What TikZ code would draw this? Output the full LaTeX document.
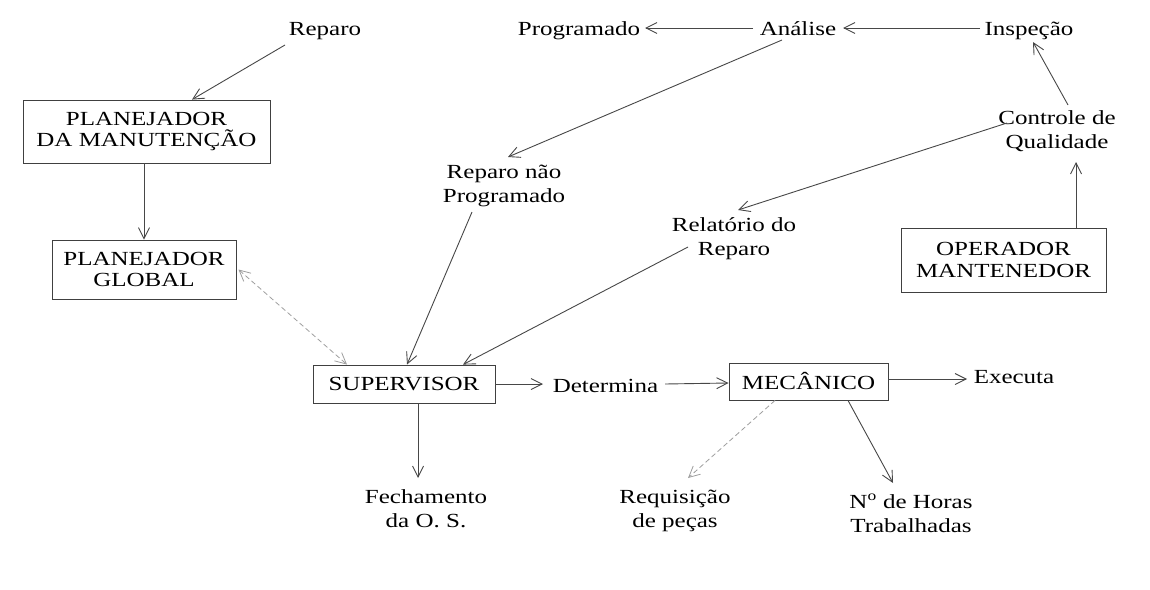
\documentclass[tikz,border=0pt]{standalone}
\usepackage{fontspec}
\setmainfont{Liberation Serif}[FakeStretch=1.25]
\usetikzlibrary{arrows.meta}
\begin{document}
\begin{tikzpicture}[x=1pt,y=-1pt,
  lbl/.style={inner sep=0pt, align=center, font=\fontsize{20}{23.5}\selectfont, text=black},
  box/.style={draw=black!75, line width=0.9pt, inner sep=0pt, align=center, text=black, font=\fontsize{20}{21.5}\selectfont},
  arr/.style={draw=black!72, line width=0.9pt, -{Straight Barb[length=11pt,width=11pt]}},
  darr/.style={draw=black!38, line width=0.8pt, dash pattern=on 5pt off 3pt}]
\useasboundingbox (0,0) rectangle (1150,589);
% boxes
\node[box, minimum width=247pt, minimum height=63pt] (pm) at (146.5,131.5) {PLANEJADOR\\DA MANUTENÇÃO};
\node[box, minimum width=184pt, minimum height=59pt] (pg) at (144,269.5) {PLANEJADOR\\GLOBAL};
\node[box, minimum width=182pt, minimum height=38pt] (sup) at (404,384) {SUPERVISOR};
\node[box, minimum width=159pt, minimum height=37pt] (mec) at (808.5,381.5) {MECÂNICO};
\node[box, minimum width=205pt, minimum height=64pt] (op) at (1003.5,260) {OPERADOR\\MANTENEDOR};
% labels (base = baseline of the last line)
\node[lbl, anchor=base] (rep) at (325,35) {Reparo};
\node[lbl, anchor=base] (prog) at (579,35) {Programado};
\node[lbl, anchor=base] (ana) at (798,35) {Análise};
\node[lbl, anchor=base] (insp) at (1029,35) {Inspeção};
\node[lbl, anchor=base] (cq) at (1057,148) {Controle de\\Qualidade};
\node[lbl, anchor=base] (rnp) at (504,202) {Reparo não\\Programado};
\node[lbl, anchor=base] (rel) at (734,255) {Relatório do\\Reparo};
\node[lbl, anchor=base] (det) at (605.5,392) {Determina};
\node[lbl, anchor=base] (exe) at (1014,383) {Executa};
\node[lbl, anchor=base] (fech) at (426,527) {Fechamento\\da O. S.};
\node[lbl, anchor=base] (req) at (675,527) {Requisição\\de peças};
\node[lbl, anchor=base] (hor) at (911,532) {N\textsuperscript{o} de Horas\\Trabalhadas};
% connectors
\draw[arr] ([shift={(-40,10)}]rep.base) -- ([shift={(45.5,0)}]pm.north);
\draw[arr] ([shift={(-2.5,0)}]pm.south) -- (pg.north);
\draw[darr, {Straight Barb[length=11pt,width=11pt]}-{Straight Barb[length=11pt,width=11pt]}] ([shift={(2,0)}]pg.east) -- ([shift={(-57,0)}]sup.north);
\draw[arr] ([shift={(-49,-7)}]insp.base) -- ([shift={(45,-7)}]ana.base);
\draw[arr] ([shift={(-45,-7)}]ana.base) -- ([shift={(66,-7)}]prog.base);
\draw[arr] ([shift={(-16,5)}]ana.base) -- ([shift={(4,-45)}]rnp.base);
\draw[arr] ([shift={(11,-43)}]cq.base) -- ([shift={(4,7)}]insp.base);
\draw[arr] ([shift={(72.5,0)}]op.north) -- ([shift={(19,14)}]cq.base);
\draw[arr] ([shift={(-50,-25)}]cq.base) -- ([shift={(4,-45)}]rel.base);
\draw[arr] ([shift={(-32,10)}]rnp.base) -- ([shift={(3,0)}]sup.north);
\draw[arr] ([shift={(-46,-8)}]rel.base) -- ([shift={(59,0)}]sup.north);
\draw[arr] (sup.east) -- ([shift={(-62.5,-8)}]det.base);
\draw[arr] ([shift={(59.5,-8)}]det.base) -- ([shift={(0,1.5)}]mec.west);
\draw[arr] ([shift={(0,-2.5)}]mec.east) -- ([shift={(-47,-4)}]exe.base);
\draw[arr] ([shift={(14,0)}]sup.south) -- ([shift={(-8,-49)}]fech.base);
\draw[darr, -{Straight Barb[length=11pt,width=11pt]}] ([shift={(-33.5,0)}]mec.south) -- ([shift={(13,-49)}]req.base);
\draw[arr] ([shift={(39.5,0)}]mec.south) -- ([shift={(-18,-49)}]hor.base);
\end{tikzpicture}
\end{document}
